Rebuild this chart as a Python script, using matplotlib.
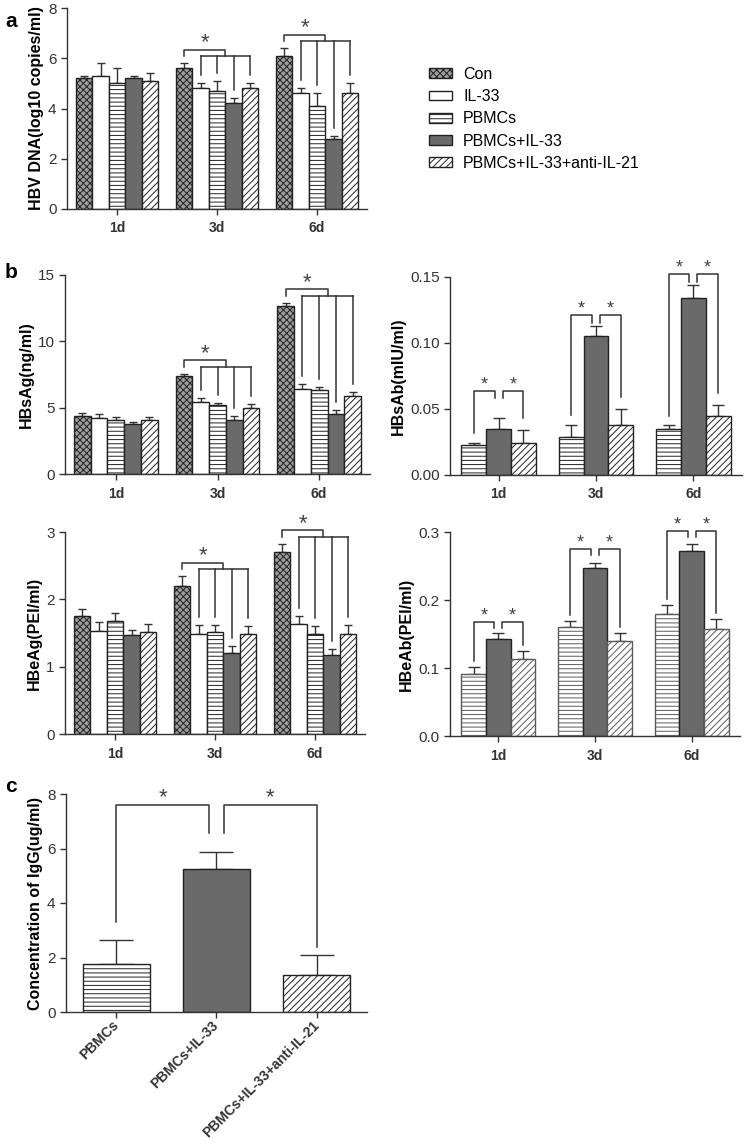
import numpy as np
import matplotlib
matplotlib.use("Agg")
import matplotlib.pyplot as plt
from matplotlib.patches import Patch

plt.rcParams['font.family'] = ['Liberation Sans', 'DejaVu Sans']
plt.rcParams['hatch.linewidth'] = 0.7

days = ['1d', '3d', '6d']
groups5 = ['Con', 'IL-33', 'PBMCs', 'PBMCs+IL-33', 'PBMCs+IL-33+anti-IL-21']
groups3 = ['PBMCs', 'PBMCs+IL-33', 'PBMCs+IL-33+anti-IL-21']

# rows = day, columns = group
hbv_mean = [[5.2, 5.3, 5.0, 5.2, 5.1], [5.6, 4.8, 4.7, 4.2, 4.8], [6.1, 4.6, 4.1, 2.8, 4.6]]
hbv_err = [[0.1, 0.5, 0.6, 0.1, 0.3], [0.2, 0.2, 0.4, 0.2, 0.2], [0.3, 0.2, 0.5, 0.1, 0.4]]
hbsag_mean = [[4.4, 4.2, 4.1, 3.8, 4.1], [7.4, 5.4, 5.2, 4.1, 5.0], [12.7, 6.4, 6.3, 4.5, 5.9]]
hbsag_err = [[0.2, 0.3, 0.2, 0.15, 0.2], [0.15, 0.3, 0.15, 0.25, 0.3], [0.2, 0.4, 0.25, 0.3, 0.3]]
hbeag_mean = [[1.75, 1.53, 1.68, 1.47, 1.52], [2.2, 1.49, 1.52, 1.21, 1.48], [2.7, 1.63, 1.49, 1.17, 1.49]]
hbeag_err = [[0.1, 0.14, 0.11, 0.08, 0.12], [0.14, 0.13, 0.1, 0.1, 0.13], [0.12, 0.12, 0.12, 0.09, 0.13]]
hbsab_mean = [[0.023, 0.035, 0.024], [0.029, 0.105, 0.038], [0.035, 0.134, 0.045]]
hbsab_err = [[0.0015, 0.008, 0.010], [0.009, 0.008, 0.012], [0.0025, 0.010, 0.008]]
hbeab_mean = [[0.091, 0.143, 0.113], [0.160, 0.247, 0.139], [0.179, 0.272, 0.158]]
hbeab_err = [[0.010, 0.008, 0.012], [0.009, 0.007, 0.012], [0.013, 0.010, 0.014]]
igg_mean = [1.75, 5.26, 1.35]
igg_err = [0.91, 0.6, 0.73]

# bracket heights
hbsab_h = [0.064, 0.121, 0.152]
hbeab_h = [0.168, 0.275, 0.302]
igg_h = 7.6

dark = '#333333'
style = {
    'Con': dict(fc='#9c9c9c', hatch='xxxxx'),
    'IL-33': dict(fc='white', hatch=''),
    'PBMCs': dict(fc='white', hatch='----'),
    'PBMCs+IL-33': dict(fc='#6a6a6a', hatch=''),
    'PBMCs+IL-33+anti-IL-21': dict(fc='white', hatch='/////'),
}


def draw_bars(ax, means, errs, names, width, edge='#222222', capsize=3):
    means = np.array(means)
    errs = np.array(errs)
    x = np.arange(means.shape[0])
    offs = (np.arange(len(names)) - (len(names) - 1) / 2) * width
    for j, name in enumerate(names):
        st = style[name]
        ec = edge if st['hatch'] else '#222222'
        ax.bar(x + offs[j], means[:, j], width, color=st['fc'], hatch=st['hatch'],
               edgecolor=ec, linewidth=1, zorder=2)
        ax.errorbar(x + offs[j], means[:, j], yerr=[np.zeros(len(x)), errs[:, j]],
                    fmt='none', ecolor=dark, elinewidth=1, capsize=capsize, capthick=1, zorder=1)
    return x, offs, means + errs


def setup(ax, ylim, yticks, labels, ylabel, fmt=None, xsize=10):
    for s in ['top', 'right']:
        ax.spines[s].set_visible(False)
    for s in ['left', 'bottom']:
        ax.spines[s].set_color(dark)
        ax.spines[s].set_linewidth(1)
    ax.set_xlim(-0.5, 2.5)
    ax.set_ylim(*ylim)
    ax.set_yticks(yticks)
    if fmt:
        ax.set_yticklabels([fmt % v for v in yticks])
    ax.set_xticks(range(len(labels)))
    ax.set_xticklabels(labels, fontweight='bold', fontsize=xsize)
    ax.tick_params(direction='out', length=4, width=1, colors=dark, labelsize=11)
    ax.tick_params(axis='x', pad=5, labelsize=xsize)
    ax.set_ylabel(ylabel, fontweight='bold', fontsize=11.5, labelpad=3)


def star(ax, x, y, size=16):
    ax.annotate('*', (x, y), xytext=(0, 1), textcoords='offset points', ha='center',
                va='baseline', fontsize=size, color='#444444', annotation_clip=False)


def line(ax, xs, ys):
    ax.plot(xs, ys, color=dark, lw=1.1, clip_on=False, zorder=3)


def multi_bracket(ax, g, offs, tops, rng):
    xs = g + offs
    low = max(tops) + 0.035 * rng
    high = low + 0.033 * rng
    mid = (xs[1] + xs[-1]) / 2
    line(ax, [xs[0], xs[0], mid, mid], [low, high, high, low])
    line(ax, [xs[1], xs[-1]], [low, low])
    for j in range(1, len(xs)):
        line(ax, [xs[j], xs[j]], [low, tops[j] + 0.04 * rng])
    star(ax, (xs[0] + mid) / 2, high)


def pair_brackets(ax, g, offs, tops, h, rng, d, gap_l, gap_r, inner, size=13):
    xs = g + offs
    line(ax, [xs[0], xs[0], xs[1] - d, xs[1] - d],
         [tops[0] + gap_l * rng, h, h, h - inner * rng])
    line(ax, [xs[1] + d, xs[1] + d, xs[2], xs[2]],
         [h - inner * rng, h, h, tops[2] + gap_r * rng])
    star(ax, (xs[0] + xs[1] - d) / 2, h, size)
    star(ax, (xs[1] + d + xs[2]) / 2, h, size)


W, H = 750, 1146
fig = plt.figure(figsize=(7.5, 11.46), dpi=100)


def add_ax(l, r, t, b):
    return fig.add_axes([l / W, 1 - b / H, (r - l) / W, (b - t) / H])


# panel a
ax = add_ax(67, 367, 8, 209)
x, offs, tops = draw_bars(ax, hbv_mean, hbv_err, groups5, 0.165)
setup(ax, (0, 8), [0, 2, 4, 6, 8], days, 'HBV DNA(log10 copies/ml)')
for g in [1, 2]:
    multi_bracket(ax, g, offs, tops[g], 8)

handles = [Patch(facecolor=style[n]['fc'], hatch=style[n]['hatch'], edgecolor='#222222', linewidth=1)
           for n in groups5]
fig.legend(handles, groups5, loc='upper left', bbox_to_anchor=(429 / W, 1 - 67 / H),
           frameon=False, fontsize=11.5, handlelength=1.44, handleheight=0.56,
           handletextpad=0.7, labelspacing=0.45, borderpad=0, borderaxespad=0)

# panel b: HBsAg
ax = add_ax(65, 370, 275, 474)
x, offs, tops = draw_bars(ax, hbsag_mean, hbsag_err, groups5, 0.165)
setup(ax, (0, 15), [0, 5, 10, 15], days, 'HBsAg(ng/ml)')
for g in [1, 2]:
    multi_bracket(ax, g, offs, tops[g], 15)

# HBsAb
ax = add_ax(450, 742, 277, 475)
x, offs, tops = draw_bars(ax, hbsab_mean, hbsab_err, groups3, 0.255, capsize=4)
setup(ax, (0, 0.15), [0, 0.05, 0.10, 0.15], days, 'HBsAb(mIU/ml)', fmt='%.2f')
for g in range(3):
    pair_brackets(ax, g, offs, tops[g], hbsab_h[g], 0.15, 0.04, 0.05, 0.06, 0.04)

# HBeAg
ax = add_ax(65, 365, 532, 734)
x, offs, tops = draw_bars(ax, hbeag_mean, hbeag_err, groups5, 0.165)
setup(ax, (0, 3), [0, 1, 2, 3], days, 'HBeAg(PEI/ml)')
for g in [1, 2]:
    multi_bracket(ax, g, offs, tops[g], 3)

# HBeAb
ax = add_ax(450, 740, 532, 736)
x, offs, tops = draw_bars(ax, hbeab_mean, hbeab_err, groups3, 0.255, edge='#5a5a5a', capsize=4)
setup(ax, (0, 0.3), [0, 0.1, 0.2, 0.3], days, 'HBeAb(PEI/ml)', fmt='%.1f')
for g in range(3):
    pair_brackets(ax, g, offs, tops[g], hbeab_h[g], 0.3, 0.04, 0.03, 0.03, 0.03)

# panel c: IgG
ax = add_ax(66, 367, 794, 1012)
xc = np.arange(len(groups3))
for j, name in enumerate(groups3):
    st = style[name]
    ax.bar(xc[j], igg_mean[j], 0.667, color=st['fc'], hatch=st['hatch'],
           edgecolor='#222222', linewidth=1, zorder=2)
ax.errorbar(xc, igg_mean, yerr=[np.zeros(3), igg_err], fmt='none', ecolor=dark,
            elinewidth=1, capsize=12, capthick=1, zorder=1)
setup(ax, (0, 8), [0, 2, 4, 6, 8], groups3, 'Concentration of IgG(ug/ml)', xsize=10)
ax.tick_params(axis='x', pad=4)
for lab in ax.get_xticklabels():
    lab.set_rotation(45)
    lab.set_ha('right')
    lab.set_va('center')
    lab.set_rotation_mode('anchor')
ctops = np.array(igg_mean) + np.array(igg_err)
pair_brackets(ax, 0, xc, ctops, igg_h, 8, 0.075, 0.08, 0.04, 0.13, size=16)

fig.text(5 / W, 1 - 27 / H, 'a', fontsize=15, fontweight='bold')
fig.text(5 / W, 1 - 278 / H, 'b', fontsize=15, fontweight='bold')
fig.text(5 / W, 1 - 792 / H, 'c', fontsize=15, fontweight='bold')

fig.savefig('out.png', dpi=100)
